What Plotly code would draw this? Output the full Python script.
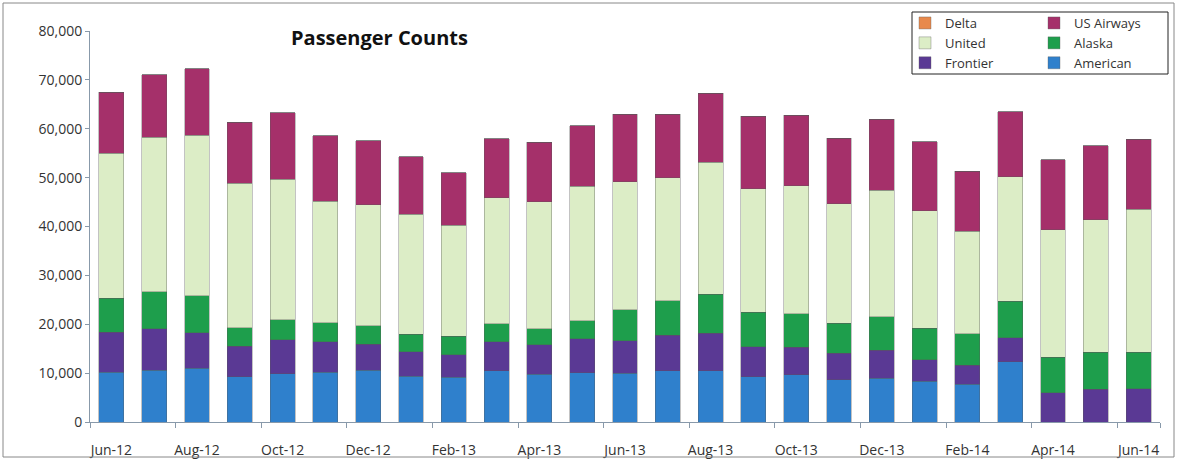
import plotly.graph_objects as go

months = ["Jun-12", "Jul-12", "Aug-12", "Sep-12", "Oct-12", "Nov-12", "Dec-12",
          "Jan-13", "Feb-13", "Mar-13", "Apr-13", "May-13", "Jun-13", "Jul-13",
          "Aug-13", "Sep-13", "Oct-13", "Nov-13", "Dec-13", "Jan-14", "Feb-14",
          "Mar-14", "Apr-14", "May-14", "Jun-14"]

american = [10200, 10600, 11000, 9300, 9900, 10200, 10600, 9400, 9200, 10500, 9800, 10100,
            10000, 10500, 10500, 9300, 9700, 8600, 9000, 8300, 7700, 12300, 0, 0, 0]
frontier = [8200, 8500, 7300, 6200, 6900, 6200, 5300, 5000, 4600, 5900, 6000, 6900,
            6600, 7200, 7700, 6100, 5600, 5500, 5700, 4400, 3900, 4900, 6000, 6700, 6800]
alaska = [6900, 7600, 7500, 3800, 4100, 3900, 3800, 3600, 3700, 3700, 3300, 3700,
          6400, 7100, 7900, 7100, 6800, 6100, 6800, 6500, 6500, 7500, 7300, 7600, 7500]
united = [29700, 31600, 32900, 29500, 28800, 24900, 24700, 24500, 22800, 25800, 26000, 27500,
          26200, 25200, 27000, 25200, 26200, 24500, 25900, 24000, 20900, 25500, 26000, 27100, 29200]
us_airways = [12500, 12700, 13600, 12500, 13600, 13400, 13100, 11800, 10700, 12100, 12100, 12400,
              13800, 13000, 14200, 14900, 14500, 13400, 14500, 14100, 12300, 13300, 14400, 15100, 14400]
delta = [0] * 25

# (name, values, colour, legend column)
series = [
    ("American", american, "#2F80CC", "legend2"),
    ("Frontier", frontier, "#5A3994", "legend"),
    ("Alaska", alaska, "#1E9E4C", "legend2"),
    ("United", united, "#DCEDC6", "legend"),
    ("US Airways", us_airways, "#A5306A", "legend2"),
    ("Delta", delta, "#E8894C", "legend"),
]

L, R, T, B = 90, 17, 31, 40
W, H = 1177 - L - R, 462 - T - B


def px(x):
    return (x - L) / W


def py(y):
    return (462 - B - y) / H


fig = go.Figure()
for name, vals, color, leg in series:
    fig.add_trace(go.Bar(
        name=name, x=months, y=vals, legend=leg,
        marker=dict(color=color, line=dict(color="rgba(90,90,90,0.6)", width=0.6)),
    ))

FONT = "Open Sans"
leg_common = dict(
    orientation="v", traceorder="reversed", yanchor="top", xanchor="left",
    bgcolor="rgba(0,0,0,0)", borderwidth=0,
    font=dict(family=FONT, size=13, color="#333333"),
    itemwidth=30, tracegroupgap=0,
)
fig.update_layout(
    barmode="stack",
    bargap=0.42,
    width=1177, height=462,
    margin=dict(l=L, r=R, t=T, b=B, autoexpand=False),
    paper_bgcolor="white",
    plot_bgcolor="white",
    font=dict(family=FONT, color="#333333", size=14),
    showlegend=True,
    legend=dict(x=px(905), y=py(8), **leg_common),
    legend2=dict(x=px(1034), y=py(8), **leg_common),
    annotations=[dict(
        text="<b>Passenger Counts</b>", x=px(289), y=py(38), xref="paper", yref="paper",
        xanchor="left", yanchor="middle", showarrow=False,
        font=dict(family=FONT, size=20, color="#111111"),
    )],
    shapes=[
        dict(type="rect", xref="paper", yref="paper",
             x0=px(3), x1=px(1174), y0=py(457), y1=py(3),
             line=dict(color="#888888", width=1), fillcolor="rgba(0,0,0,0)"),
        dict(type="rect", xref="paper", yref="paper",
             x0=px(912), x1=px(1168), y0=py(74), y1=py(12),
             line=dict(color="#222222", width=1), fillcolor="rgba(0,0,0,0)"),
    ],
)

fig.update_xaxes(
    type="category",
    tickvals=months[::2],
    tickson="boundaries",
    tickangle=0,
    automargin=False,
    ticks="outside", ticklen=5, tickcolor="#8899aa",
    showline=True, linecolor="#8899aa", linewidth=1,
    showgrid=False,
    ticklabelstandoff=15,
    tickfont=dict(size=14, color="#333333"),
)
fig.update_yaxes(
    range=[0, 80000], dtick=10000, tickformat=",",
    automargin=False,
    ticks="outside", ticklen=4, tickcolor="#8899aa",
    showline=True, linecolor="#8899aa", linewidth=1,
    showgrid=False, zeroline=False,
    tickfont=dict(size=14, color="#333333"),
)

fig.write_html("out.html", config={"displayModeBar": False},
               post_script="document.body.style.margin='0';")
